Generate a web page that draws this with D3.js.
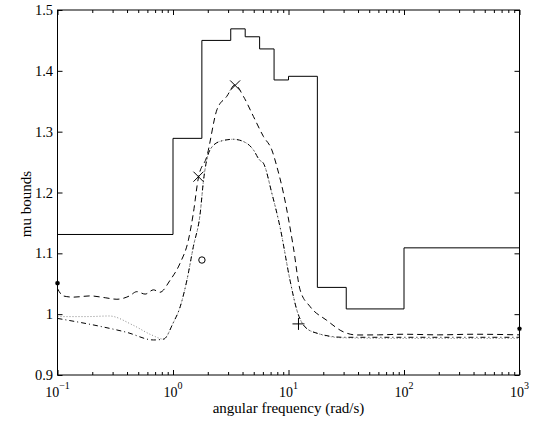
<!DOCTYPE html>
<html><head><meta charset="utf-8">
<script src="https://cdn.jsdelivr.net/npm/d3@7"></script>
<style>
html,body{margin:0;padding:0;background:#fff;}
svg{display:block;}
text{font-family:"Liberation Serif","Times New Roman",serif;fill:#000;}
</style></head>
<body>
<script>
// ---- data ----
const stepEdges  = [0.1, 1, 1.778, 3.162, 4.217, 5.623, 7.499, 10, 17.78, 31.62, 100, 1000];
const stepValues = [1.131, 1.289, 1.450, 1.469, 1.456, 1.436, 1.385, 1.391, 1.044, 1.0086, 1.109];

const dashedFreq  = [0.1, 0.112, 0.137, 0.192, 0.259, 0.327, 0.42, 0.486, 0.574, 0.678, 0.77, 0.945, 1.153, 1.36, 1.50, 1.66, 1.96, 2.40, 2.92, 3.45, 4.07, 4.97, 6.07, 7.17, 7.92, 9.04, 11.0, 12.6, 15.4, 21.4, 29.8, 39, 60, 100, 200, 400, 1000];
const dashedVals  = [1.042, 1.030, 1.028, 1.030, 1.027, 1.0245, 1.030, 1.037, 1.033, 1.040, 1.036, 1.056, 1.084, 1.122, 1.166, 1.2245, 1.259, 1.336, 1.358, 1.377, 1.358, 1.325, 1.292, 1.270, 1.243, 1.199, 1.111, 1.040, 1.0123, 0.990, 0.971, 0.9658, 0.966, 0.967, 0.966, 0.967, 0.966];

const dashdotFreq = [0.1, 0.234, 0.40, 0.678, 0.83, 1.0, 1.153, 1.32, 1.50, 1.72, 1.84, 2.09, 2.55, 3.33, 4.34, 4.97, 5.6, 6.07, 7.17, 8.45, 10.3, 11.8, 13.9, 17.7, 29.8, 100, 1000];
const dashdotVals = [0.993, 0.980, 0.970, 0.9576, 0.959, 0.985, 1.012, 1.056, 1.111, 1.166, 1.221, 1.270, 1.284, 1.2875, 1.281, 1.270, 1.2536, 1.248, 1.199, 1.143, 1.056, 1.007, 0.979, 0.9686, 0.962, 0.962, 0.962];

const dottedFreq  = [0.1, 0.18, 0.28, 0.45, 0.65, 0.83, 1.0, 1.153, 1.32, 1.50, 1.72, 1.84, 2.09, 2.55, 3.33, 4.34, 4.97, 5.6, 6.07, 7.17, 8.45, 10.3, 11.8, 13.9, 17.7, 29.8, 100, 1000];
const dottedVals  = [0.996, 0.996, 0.997, 0.982, 0.966, 0.959, 0.985, 1.012, 1.056, 1.111, 1.166, 1.221, 1.270, 1.284, 1.2875, 1.281, 1.270, 1.2536, 1.248, 1.199, 1.143, 1.056, 1.007, 0.979, 0.9686, 0.961, 0.960, 0.960];

const starPts  = [[0.1, 1.051], [1000, 0.976]];
const crossPts = [[1.66, 1.226], [3.45, 1.376]];
const circlePts = [[1.78, 1.089]];
const plusPts  = [[12.2, 0.984]];

const xTickValues = [0.1, 1, 10, 100, 1000];
const xTickExps   = ["\u22121", "0", "1", "2", "3"];
const yTickValues = [0.9, 1.0, 1.1, 1.2, 1.3, 1.4, 1.5];
const yTickLabels = ["0.9", "1", "1.1", "1.2", "1.3", "1.4", "1.5"];

const xLabel = "angular frequency (rad/s)";
const yLabel = "mu bounds";

// ---- layout ----
const W = 538, H = 425;
const L = 57.5, R = 519.5, T = 10, B = 375;

const svg = d3.select("body").append("svg").attr("width", W).attr("height", H);

const x = d3.scaleLog().domain([0.1, 1000]).range([L, R]);
const y = d3.scaleLinear().domain([0.9, 1.5]).range([B, T]);

const plot = svg.append("g");
svg.append("clipPath").attr("id", "clp").append("rect")
  .attr("x", L).attr("y", T).attr("width", R - L).attr("height", B - T);
const lines = plot.append("g").attr("clip-path", "url(#clp)");

// step (solid)
const stepData = stepEdges.map((e, i) => [e, i < stepValues.length ? stepValues[i] : stepValues[stepValues.length - 1]]);
lines.append("path")
  .attr("d", d3.line().x(d => x(d[0])).y(d => y(d[1])).curve(d3.curveStepAfter)(stepData))
  .attr("fill", "none").attr("stroke", "#000").attr("stroke-width", 1);

const smooth = d3.line().x(d => x(d[0])).y(d => y(d[1])).curve(d3.curveMonotoneX);

lines.append("path")
  .attr("d", smooth(dottedFreq.map((f, i) => [f, dottedVals[i]])))
  .attr("fill", "none").attr("stroke", "#888").attr("stroke-width", 1)
  .attr("stroke-dasharray", "1,2");

lines.append("path")
  .attr("d", smooth(dashdotFreq.map((f, i) => [f, dashdotVals[i]])))
  .attr("fill", "none").attr("stroke", "#000").attr("stroke-width", 1)
  .attr("stroke-dasharray", "5,3,1,3");

lines.append("path")
  .attr("d", smooth(dashedFreq.map((f, i) => [f, dashedVals[i]])))
  .attr("fill", "none").attr("stroke", "#000").attr("stroke-width", 1)
  .attr("stroke-dasharray", "6,4");

// markers
const mk = plot.append("g").attr("stroke", "#000").attr("fill", "none").attr("stroke-width", 1);
crossPts.forEach(p => {
  const cx = x(p[0]), cy = y(p[1]), s = 5;
  mk.append("path").attr("d", `M${cx - s},${cy - s}L${cx + s},${cy + s}M${cx - s},${cy + s}L${cx + s},${cy - s}`);
});
plusPts.forEach(p => {
  const cx = x(p[0]), cy = y(p[1]), s = 6;
  mk.append("path").attr("d", `M${cx - s},${cy}L${cx + s},${cy}M${cx},${cy - s}L${cx},${cy + s}`);
});
circlePts.forEach(p => {
  mk.append("circle").attr("cx", x(p[0])).attr("cy", y(p[1])).attr("r", 3.2);
});
starPts.forEach(p => {
  const cx = x(p[0]), cy = y(p[1]), s = 2.4;
  mk.append("path").attr("stroke-width", 1.2)
    .attr("d", `M${cx - s},${cy}L${cx + s},${cy}M${cx},${cy - s}L${cx},${cy + s}M${cx - s*0.7},${cy - s*0.7}L${cx + s*0.7},${cy + s*0.7}M${cx - s*0.7},${cy + s*0.7}L${cx + s*0.7},${cy - s*0.7}`);
});

// axes
const minorX = x.ticks().filter(v => !xTickValues.some(t => Math.abs(t - v) < 1e-9));

function styleAxis(g) {
  g.select(".domain").remove();
  g.selectAll("line").attr("stroke", "#000").attr("stroke-width", 1);
}

svg.append("g").attr("transform", `translate(0,${B})`)
  .call(d3.axisBottom(x).tickValues(xTickValues).tickSizeInner(-5).tickSizeOuter(0).tickFormat("")).call(styleAxis);
svg.append("g").attr("transform", `translate(0,${B})`)
  .call(d3.axisBottom(x).tickValues(minorX).tickSizeInner(-3).tickSizeOuter(0).tickFormat("")).call(styleAxis);
svg.append("g").attr("transform", `translate(0,${T})`)
  .call(d3.axisTop(x).tickValues(xTickValues).tickSizeInner(-5).tickSizeOuter(0).tickFormat("")).call(styleAxis);
svg.append("g").attr("transform", `translate(0,${T})`)
  .call(d3.axisTop(x).tickValues(minorX).tickSizeInner(-3).tickSizeOuter(0).tickFormat("")).call(styleAxis);
svg.append("g").attr("transform", `translate(${L},0)`)
  .call(d3.axisLeft(y).tickValues(yTickValues).tickSizeInner(-5).tickSizeOuter(0).tickFormat("")).call(styleAxis);
svg.append("g").attr("transform", `translate(${R},0)`)
  .call(d3.axisRight(y).tickValues(yTickValues).tickSizeInner(-5).tickSizeOuter(0).tickFormat("")).call(styleAxis);

// box
svg.append("rect").attr("x", L).attr("y", T).attr("width", R - L).attr("height", B - T)
  .attr("fill", "none").attr("stroke", "#000").attr("stroke-width", 1);

// tick labels
xTickValues.forEach((v, i) => {
  const t = svg.append("text").attr("x", x(v)).attr("y", 397).attr("text-anchor", "middle")
    .attr("font-size", 14);
  t.append("tspan").text("10");
  t.append("tspan").attr("dy", -8).attr("font-size", 10).text(xTickExps[i]);
});
yTickValues.forEach((v, i) => {
  svg.append("text").attr("x", 53).attr("y", y(v)).attr("dy", "0.35em")
    .attr("text-anchor", "end").attr("font-size", 14.5).text(yTickLabels[i]);
});

svg.append("text").attr("x", (L + R) / 2).attr("y", 413).attr("text-anchor", "middle")
  .attr("font-size", 15).text(xLabel);
svg.append("text").attr("transform", `translate(31,204) rotate(-90)`).attr("text-anchor", "middle")
  .attr("font-size", 15).text(yLabel);
</script>
</body></html>
